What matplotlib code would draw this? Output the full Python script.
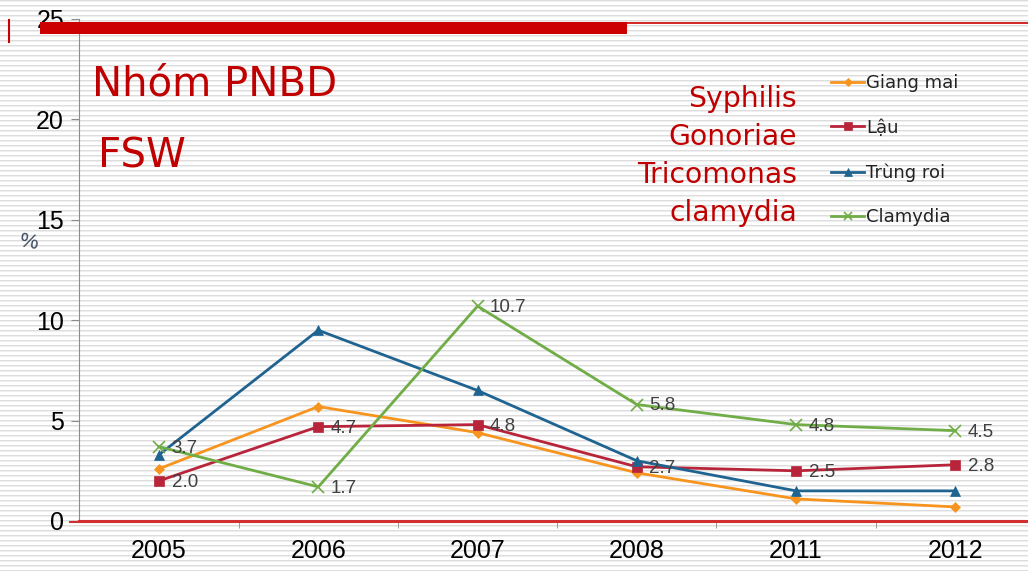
import numpy as np
import matplotlib
matplotlib.use("Agg")
import matplotlib.pyplot as plt
from matplotlib.lines import Line2D
from matplotlib.patches import Rectangle

plt.rcParams['font.family'] = ['Liberation Sans', 'DejaVu Sans']

years = ["2005", "2006", "2007", "2008", "2011", "2012"]
giang_mai = [2.6, 5.7, 4.4, 2.4, 1.1, 0.7]
lau = [2.0, 4.7, 4.8, 2.7, 2.5, 2.8]
trung_roi = [3.3, 9.5, 6.5, 3.0, 1.5, 1.5]
clamydia = [3.7, 1.7, 10.7, 5.8, 4.8, 4.5]
series_names = ["Giang mai", "Lậu", "Trùng roi", "Clamydia"]
y_ticks = [0, 5, 10, 15, 20, 25]
title_lines = ["Nhóm PNBD", "FSW"]
english_names = ["Syphilis", "Gonoriae", "Tricomonas", "clamydia"]

W, H = 1028, 571
fig = plt.figure(figsize=(W / 100, H / 100), dpi=100)

# striped background
bg = fig.add_axes([0, 0, 1, 1])
bg.set_axis_off()
pattern = np.ones((H, W, 3))
rows = np.arange(H)
pattern[rows % 5 == 0] = 0.87
pattern[rows % 5 == 1] = 0.94
bg.imshow(pattern, aspect='auto', interpolation='nearest', extent=[0, W, H, 0])
bg.set_xlim(0, W)
bg.set_ylim(H, 0)

def fx(px):
    return px / W

def fy(py):
    return 1 - py / H

# decoration: red bar, thin line, small vertical mark
fig.add_artist(Rectangle((fx(40), fy(34)), fx(627) - fx(40), fy(22) - fy(34),
                         transform=fig.transFigure, color='#CC0000', lw=0))
fig.add_artist(Line2D([fx(627), 1], [fy(23), fy(23)], transform=fig.transFigure,
                      color='#CC0000', lw=1.2))
fig.add_artist(Line2D([fx(8.5), fx(8.5)], [fy(20), fy(42)], transform=fig.transFigure,
                      color='#CC0000', lw=1.5))

left, right = 79.4, 1035
top, bottom = 19, 521
ax = fig.add_axes([fx(left), fy(bottom), (right - left) / W, (bottom - top) / H])
ax.patch.set_alpha(0)
x = np.arange(len(years))
ax.set_xlim(-0.5, len(years) - 0.5)
ax.set_ylim(0, 25)

colors = ['#F7941D', '#B8243A', '#1F6391', '#70AD47']
markers = ['D', 's', '^', 'x']
msizes = [5, 7, 7, 8]
data = [giang_mai, lau, trung_roi, clamydia]
handles = []
for vals, c, m, ms, name in zip(data, colors, markers, msizes, series_names):
    h, = ax.plot(x, vals, color=c, marker=m, markersize=ms, lw=2, label=name,
                 markeredgewidth=1.2 if m == 'x' else 0.5, clip_on=False, zorder=3)
    handles.append(h)

for vals in (lau, clamydia):
    for xi, v in zip(x, vals):
        ax.annotate(f"{v:.1f}", (xi, v), xytext=(9, -1), textcoords='offset points',
                    ha='left', va='center', fontsize=13.5, color='#404040', zorder=4,
                    family=['Liberation Sans'])

ax.spines['top'].set_visible(False)
ax.spines['right'].set_visible(False)
ax.spines['left'].set_color('#8C8C8C')
ax.spines['bottom'].set_color('#D03030')
ax.spines['bottom'].set_linewidth(1.5)
ax.set_yticks(y_ticks)
ax.set_yticklabels([str(t) for t in y_ticks], fontsize=18, family=['Liberation Sans'])
ax.set_xticks(x)
ax.set_xticklabels(years, fontsize=18, family=['Liberation Sans'])
ax.set_xticks(np.arange(0.5, len(years) - 1, 1), minor=True)
ax.tick_params(axis='x', which='major', length=0, pad=13)
ax.tick_params(axis='x', which='minor', length=5, color='#8C8C8C')
ax.tick_params(axis='y', length=6, color='#8C8C8C', pad=5)

# extend red baseline to the left of the axis and to the figure edge
fig.add_artist(Line2D([fx(70), 1], [fy(521.5), fy(521.5)], transform=fig.transFigure,
                      color='#D03030', lw=1.5))

# % label
fig.text(fx(28), fy(242), "%", fontsize=15, color='#3A4A60', ha='center', va='center',
         rotation=-10)

verdana_like = ['DejaVu Sans']
# title texts
fig.text(fx(92), fy(84), title_lines[0], fontsize=29, color='#C00000', ha='left',
         va='center', family=verdana_like)
fig.text(fx(98), fy(156), title_lines[1], fontsize=29, color='#C00000', ha='left',
         va='center', family=verdana_like)

for i, nm in enumerate(english_names):
    fig.text(fx(797), fy(99 + 38 * i), nm, fontsize=20.3, color='#C00000',
             ha='right', va='center', family=verdana_like)

leg = fig.legend(handles=handles, loc='upper left', bbox_to_anchor=(fx(815), fy(58)),
                 frameon=False, prop={'family': verdana_like, 'size': 13},
                 handlelength=1.8, handletextpad=0.15,
                 labelspacing=1.47, markerscale=0.8)
for t in leg.get_texts():
    t.set_color('#222222')

fig.savefig("out.png", dpi=100)
